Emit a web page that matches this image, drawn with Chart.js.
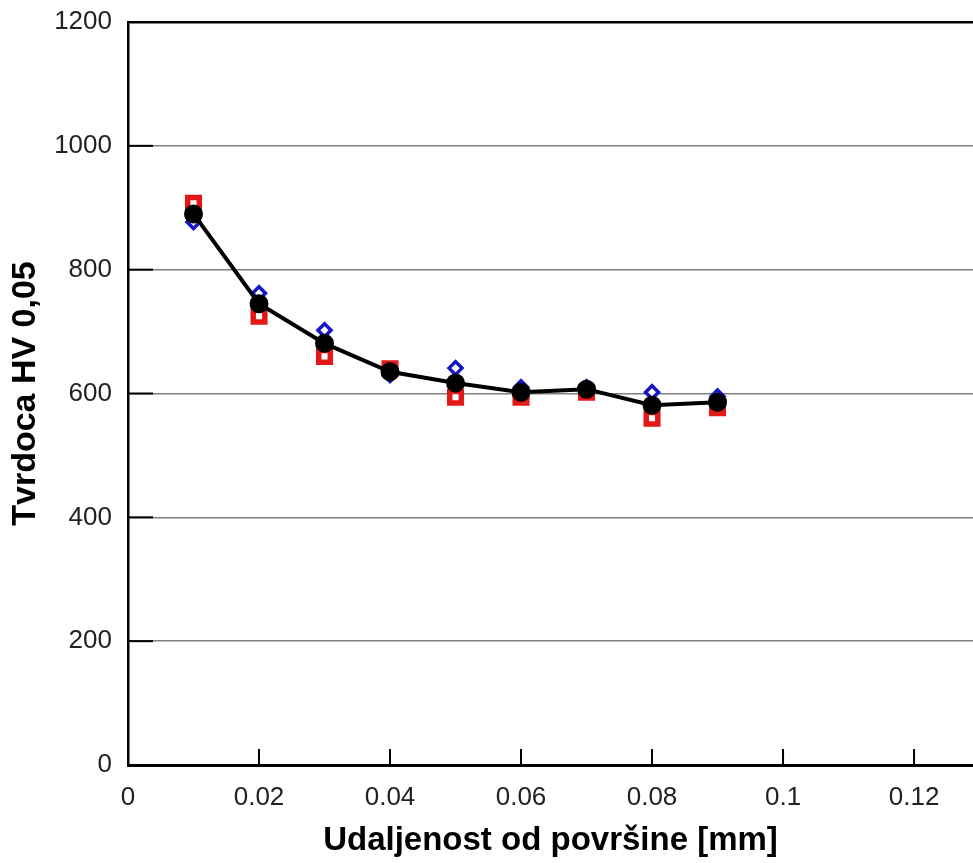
<!DOCTYPE html>
<html>
<head>
<meta charset="utf-8">
<script src="https://cdn.jsdelivr.net/npm/chart.js@4"></script>
<style>
  html, body { margin: 0; padding: 0; background: #fff; overflow: hidden; }
  #wrap { width: 973px; height: 863px; }
  canvas { display: block; }
</style>
</head>
<body>
<div id="wrap"><canvas id="hvChart" width="973" height="863"></canvas></div>
<script>
// udaljenost od površine [mm]
const distances = [0.01, 0.02, 0.03, 0.04, 0.05, 0.06, 0.07, 0.08, 0.09];
// srednja vrijednost (crna linija)
const meanHV = [890, 745, 681, 635, 617, 602, 607, 581, 586];
// mjerenje 1 (crveni kvadrati)
const seriesRed = [907, 725, 660, 640, 594, 594, 602, 560, 577];
// mjerenje 2 (plavi rombovi)
const seriesBlue = [877, 762, 702, 630, 641, 610, 610, 602, 595];

const xTicks = [0, 0.02, 0.04, 0.06, 0.08, 0.1, 0.12];
const yTicks = [0, 200, 400, 600, 800, 1000, 1200];

const toPoints = (vals) => vals.map((v, i) => ({ x: distances[i], y: v }));

// crtice okrenute prema unutra
const innerTicks = {
    id: "innerTicks",
    afterDraw(chart) {
        const { ctx, chartArea, scales } = chart;
        ctx.save();
        ctx.strokeStyle = "#000";
        ctx.lineWidth = 2;
        xTicks.forEach((t) => {
            const px = scales.x.getPixelForValue(t);
            ctx.beginPath();
            ctx.moveTo(px, chartArea.bottom);
            ctx.lineTo(px, chartArea.bottom - 16);
            ctx.stroke();
        });
        yTicks.forEach((t) => {
            const py = scales.y.getPixelForValue(t);
            ctx.beginPath();
            ctx.moveTo(chartArea.left, py);
            ctx.lineTo(chartArea.left + 25, py);
            ctx.stroke();
        });
        ctx.restore();
    },
};

const ctx = document.getElementById("hvChart").getContext("2d");

new Chart(ctx, {
    type: "scatter",
    data: {
        datasets: [
            {
                label: "Srednja vrijednost",
                data: toPoints(meanHV),
                showLine: true,
                borderColor: "#000",
                backgroundColor: "#000",
                borderWidth: 4,
                pointRadius: 7.5,
                pointStyle: "circle",
                tension: 0,
                order: 0,
            },
            {
                label: "Mjerenje 2",
                data: toPoints(seriesBlue),
                showLine: false,
                pointStyle: "rectRot",
                pointRadius: 6.5,
                borderColor: "#1616c8",
                backgroundColor: "#fff",
                pointBorderWidth: 3.5,
                order: 1,
            },
            {
                label: "Mjerenje 1",
                data: toPoints(seriesRed),
                showLine: false,
                pointStyle: "rect",
                pointRadius: 8.2,
                borderColor: "#e31818",
                backgroundColor: "#fff",
                pointBorderWidth: 5.5,
                order: 2,
            },
        ],
    },
    options: {
        responsive: false,
        animation: false,
        layout: { autoPadding: false, padding: { top: 22, right: 0, left: 0, bottom: 0 } },
        plugins: {
            legend: { display: false },
            tooltip: { enabled: false },
        },
        scales: {
            x: {
                type: "linear",
                min: 0,
                max: 0.129,
                afterBuildTicks: (scale) => {
                    scale.ticks = xTicks.map((v) => ({ value: v }));
                },
                afterFit: (scale) => {
                    scale.height = 98;
                    scale.paddingLeft = 0;
                    scale.paddingRight = 0;
                },
                grid: { color: "rgba(0,0,0,0)", drawTicks: false },
                border: { display: true, color: "#000", width: 3 },
                ticks: {
                    padding: 17,
                    color: "#222",
                    font: { family: "Liberation Sans", size: 26 },
                    maxRotation: 0,
                    callback: (v) => String(Number(v.toFixed(2))),
                },
                title: {
                    display: true,
                    text: "Udaljenost od površine [mm]",
                    color: "#000",
                    font: { family: "Liberation Sans", size: 33, weight: "bold" },
                    padding: { top: 0, bottom: 2 },
                },
            },
            y: {
                min: 0,
                max: 1200,
                afterBuildTicks: (scale) => {
                    scale.ticks = yTicks.map((v) => ({ value: v }));
                },
                afterFit: (scale) => {
                    scale.width = 128;
                    scale.paddingTop = 0;
                    scale.paddingBottom = 0;
                },
                grid: {
                    drawTicks: false,
                    color: (c) => (c.tick && c.tick.value === 1200 ? "#000" : "#808080"),
                    lineWidth: (c) => (c.tick && c.tick.value === 1200 ? 2.5 : 1.5),
                },
                border: { display: true, color: "#000", width: 2.5 },
                ticks: {
                    padding: 16,
                    color: "#222",
                    font: { family: "Liberation Sans", size: 26 },
                    callback: (v) => String(v),
                },
                title: {
                    display: true,
                    text: "Tvrdoca HV 0,05",
                    color: "#000",
                    font: { family: "Liberation Sans", size: 34, weight: "bold" },
                    padding: { top: 5, bottom: 0 },
                },
            },
        },
    },
    plugins: [innerTicks],
});
</script>
</body>
</html>
